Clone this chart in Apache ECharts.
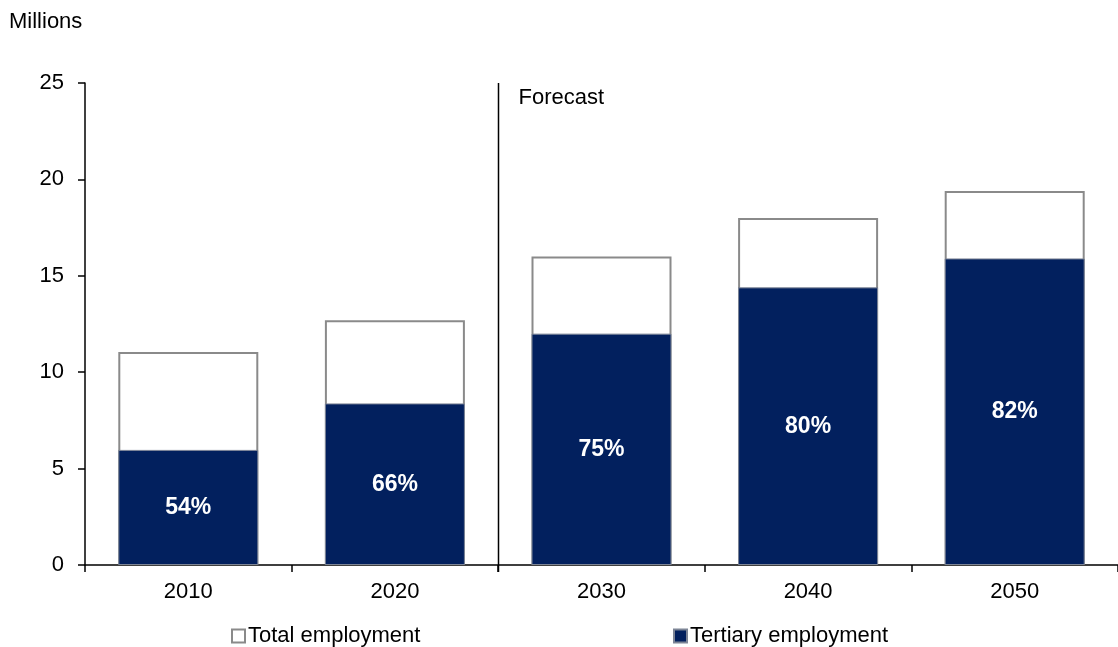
<!DOCTYPE html>
<html>
<head>
<meta charset="utf-8">
<script src="https://cdn.jsdelivr.net/npm/echarts@6/dist/echarts.min.js"></script>
<style>
  html, body { margin: 0; padding: 0; background: #fff; }
  #chart { width: 1118px; height: 647px; }
</style>
</head>
<body>
<div id="chart"></div>
<script>
// Employment, millions
const years = ['2010', '2020', '2030', '2040', '2050'];
const totalEmployment = [11.05, 12.7, 16.0, 18.0, 19.4];
const tertiaryEmployment = [5.97, 8.38, 12.0, 14.4, 15.9];
const yTicks = { min: 0, max: 25, interval: 5 };
// Index of the first forecast year
const firstForecastIndex = 2;

const FONT = '"Liberation Sans", Arial, sans-serif';
const NAVY = '#02205e';

const chart = echarts.init(document.getElementById('chart'), null, { renderer: 'canvas' });

const legendText = { color: '#000', fontSize: 22, fontFamily: FONT, padding: [0, 0, 0, -2] };

const option = {
  backgroundColor: '#ffffff',
  animation: false,
  textStyle: { fontFamily: FONT },
  grid: { left: 85, top: 83, bottom: 82, right: -7 },
  xAxis: {
    type: 'category',
    data: years,
    axisLine: { lineStyle: { color: '#000', width: 1.5 } },
    axisTick: { show: true, length: 7, lineStyle: { color: '#000', width: 1.5 } },
    axisLabel: { color: '#000', fontSize: 22, fontFamily: FONT, margin: 16 }
  },
  yAxis: {
    type: 'value',
    min: yTicks.min, max: yTicks.max, interval: yTicks.interval,
    splitLine: { show: false },
    axisLine: { show: true, lineStyle: { color: '#000', width: 1.5 } },
    axisTick: { show: true, length: 7, lineStyle: { color: '#000', width: 1.5 } },
    axisLabel: { color: '#000', fontSize: 22, fontFamily: FONT, margin: 21 }
  },
  legend: [
    {
      top: 620, left: 226,
      itemWidth: 13, itemHeight: 13, icon: 'rect',
      textStyle: legendText,
      data: ['Total employment']
    },
    {
      top: 620, left: 668,
      itemWidth: 13, itemHeight: 13, icon: 'rect',
      textStyle: legendText,
      data: ['Tertiary employment']
    }
  ],
  series: [
    {
      name: 'Total employment',
      type: 'bar',
      data: totalEmployment,
      barWidth: 140,
      barGap: '-100%',
      z: 2,
      itemStyle: { color: '#ffffff', borderColor: '#8a8a8a', borderWidth: 2 }
    },
    {
      name: 'Tertiary employment',
      type: 'bar',
      data: tertiaryEmployment,
      barWidth: 140,
      barGap: '-100%',
      z: 3,
      itemStyle: { color: NAVY, borderColor: '#7d8596', borderWidth: 1 },
      label: {
        show: true,
        position: 'inside',
        color: '#ffffff',
        fontWeight: 'bold',
        fontSize: 23,
        fontFamily: FONT,
        formatter: p => Math.round(p.value / totalEmployment[p.dataIndex] * 100) + '%'
      }
    }
  ]
};

chart.setOption(option);

// Divider between actual and forecast years, plus the unit caption
function drawOverlay() {
  const xa = chart.convertToPixel({ xAxisIndex: 0 }, years[firstForecastIndex - 1]);
  const xb = chart.convertToPixel({ xAxisIndex: 0 }, years[firstForecastIndex]);
  const x = Math.round((xa + xb) / 2) + 0.5;
  const yTop = chart.convertToPixel({ yAxisIndex: 0 }, yTicks.max);
  const yBot = chart.convertToPixel({ yAxisIndex: 0 }, yTicks.min);
  chart.setOption({
    graphic: [
      {
        type: 'line',
        shape: { x1: x, y1: yTop, x2: x, y2: yBot + 7 },
        style: { stroke: '#000', lineWidth: 1.5 },
        z: 10
      },
      {
        type: 'text',
        left: x + 20,
        top: yTop + 4,
        style: { text: 'Forecast', fill: '#000', font: '22px ' + FONT },
        z: 10
      },
      {
        type: 'text',
        left: 9,
        top: 11,
        style: { text: 'Millions', fill: '#000', font: '22px ' + FONT },
        z: 10
      }
    ]
  });
}
drawOverlay();
</script>
</body>
</html>
